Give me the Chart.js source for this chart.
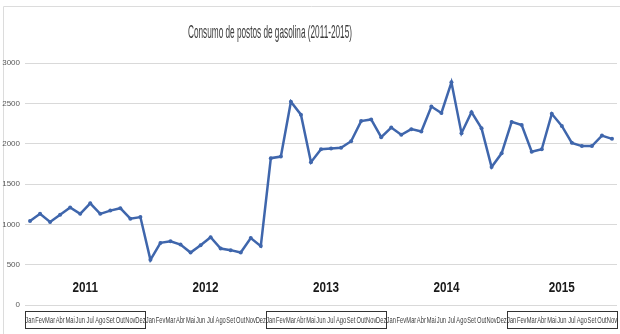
<!DOCTYPE html>
<html>
<head>
<meta charset="utf-8">
<script src="https://cdn.jsdelivr.net/npm/chart.js@4/dist/chart.umd.min.js"></script>
<style>
  html, body { margin: 0; padding: 0; background: #fff; }
  #wrap { width: 620px; height: 334px; position: relative; }
</style>
</head>
<body>
<div id="wrap"><canvas id="c" width="620" height="334"></canvas></div>
<script>
const titleText = "Consumo de postos de gasolina (2011-2015)";
const years = ["2011", "2012", "2013", "2014", "2015"];
const monthNames = ["Jan","Fev","Mar","Abr","Mai","Jun","Jul","Ago","Set","Out","Nov","Dez"];
const boxedYears = ["2011", "2013", "2015"];

const values2011 = [1040, 1130, 1030, 1120, 1210, 1130, 1260, 1130, 1170, 1200, 1070, 1090];
const values2012 = [560, 770, 790, 750, 650, 740, 840, 700, 680, 650, 830, 730];
const values2013 = [1820, 1840, 2520, 2360, 1770, 1930, 1940, 1950, 2030, 2280, 2300, 2080];
const values2014 = [2200, 2110, 2180, 2150, 2460, 2380, 2760, 2130, 2390, 2190, 1710, 1880];
const values2015 = [2270, 2230, 1900, 1930, 2370, 2220, 2010, 1970, 1970, 2100, 2060];

const yTicks = [0, 500, 1000, 1500, 2000, 2500, 3000];

const seriesByYear = [values2011, values2012, values2013, values2014, values2015];
const labels = [];
const yearOfIndex = [];
const values = [];
seriesByYear.forEach((arr, yi) => {
  arr.forEach((v, mi) => {
    labels.push(monthNames[mi]);
    yearOfIndex.push(years[yi]);
    values.push(v);
  });
});

const NARROW = "'Liberation Sans Narrow', 'Liberation Sans', Arial, sans-serif";

function drawSquished(ctx, text, x, y, font, color, sx, align) {
  ctx.save();
  ctx.font = font;
  ctx.fillStyle = color;
  ctx.textBaseline = 'middle';
  ctx.textAlign = align || 'center';
  ctx.translate(x, y);
  ctx.scale(sx, 1);
  ctx.fillText(text, 0, 0);
  ctx.restore();
}

const decorPlugin = {
  id: 'decor',
  beforeDraw(chart) {
    const ctx = chart.ctx;
    ctx.save();
    ctx.strokeStyle = '#dcdcdc';
    ctx.lineWidth = 1;
    ctx.beginPath();
    ctx.moveTo(3.5, 334);
    ctx.lineTo(3.5, 6.5);
    ctx.lineTo(620, 6.5);
    ctx.stroke();
    ctx.restore();
  },
  afterDraw(chart) {
    const ctx = chart.ctx;
    const xs = chart.scales.x;
    const ca = chart.chartArea;
    const half = (xs.getPixelForValue(1) - xs.getPixelForValue(0)) / 2;

    // Title
    ctx.save();
    ctx.font = "18px " + NARROW;
    const tw = ctx.measureText(titleText).width;
    ctx.restore();
    drawSquished(ctx, titleText, 270, 33, "18px " + NARROW, '#3a3a3a', 164 / tw, 'center');

    // Month labels
    labels.forEach((m, i) => {
      const x = xs.getPixelForValue(i);
      drawSquished(ctx, m, x, ca.bottom + 15.5, "9px " + NARROW, '#404040', 0.64, 'center');
    });

    // Year labels and boxes
    years.forEach(yr => {
      const first = yearOfIndex.indexOf(yr);
      const last = yearOfIndex.lastIndexOf(yr);
      const x0 = xs.getPixelForValue(first) - half;
      const x1 = xs.getPixelForValue(last) + half;
      drawSquished(ctx, yr, (x0 + x1) / 2, ca.bottom - 17, "bold 15px " + NARROW, '#1a1a1a', 0.78, 'center');
      if (boxedYears.includes(yr)) {
        ctx.save();
        ctx.strokeStyle = '#333333';
        ctx.lineWidth = 1;
        ctx.strokeRect(Math.round(x0) + 0.5, ca.bottom + 6.5, Math.round(x1 - x0), 17);
        ctx.restore();
      }
    });
  }
};

new Chart(document.getElementById('c'), {
  type: 'line',
  data: {
    labels: labels,
    datasets: [{
      data: values,
      borderColor: '#3f66ac',
      backgroundColor: '#3f66ac',
      borderWidth: 2.5,
      pointRadius: 2,
      pointHoverRadius: 2,
      pointBorderWidth: 0,
      tension: 0
    }]
  },
  options: {
    responsive: false,
    animation: false,
    devicePixelRatio: 1,
    layout: { padding: { top: 63, right: 3, left: 2, bottom: 0 } },
    plugins: { legend: { display: false }, tooltip: { enabled: false }, title: { display: false } },
    scales: {
      x: {
        type: 'category',
        offset: true,
        grid: { display: false },
        border: { display: false },
        ticks: { display: false },
        afterFit(scale) { scale.height = 29; }
      },
      y: {
        min: 0,
        max: 3000,
        afterBuildTicks(scale) { scale.ticks = yTicks.map(v => ({ value: v })); },
        grid: { color: '#d9d9d9', lineWidth: 1, drawTicks: false },
        border: { display: false },
        ticks: {
          padding: 5,
          color: '#595959',
          font: { size: 8, family: NARROW },
          callback: (v) => String(v)
        },
        afterFit(scale) { scale.width = 23; }
      }
    }
  },
  plugins: [decorPlugin]
});
</script>
</body>
</html>
